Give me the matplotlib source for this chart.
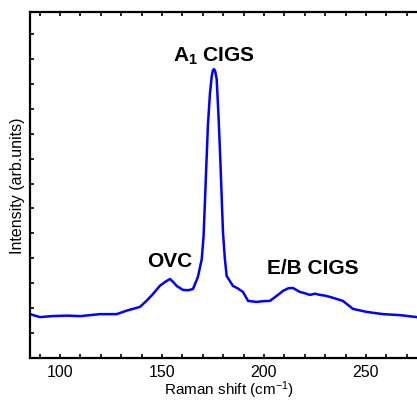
import matplotlib
matplotlib.use("Agg")
import matplotlib.pyplot as plt
from matplotlib.ticker import MultipleLocator

raman_shift = [85.3, 90.2, 96.0, 103.3, 110.0, 119.6, 127.8, 132.7, 139.2, 142.5, 145.6,
               149.0, 151.5, 153.9, 155.5, 157.2, 160.3, 163.0, 165.2, 167.6, 169.5, 170.4,
               171.1, 172.5, 173.5, 174.4, 175.0, 175.5, 176.1, 176.8, 177.6, 178.4, 179.2,
               179.9, 180.8, 181.7, 184.8, 187.0, 189.7, 192.2, 196.4, 199.5, 202.9, 206.2,
               209.3, 212.0, 214.2, 217.6, 220.0, 222.5, 225.0, 227.5, 230.0, 232.4, 238.7,
               243.6, 250.3, 258.3, 266.7, 274.9, 280.0]
intensity = [1.76, 1.64, 1.68, 1.70, 1.68, 1.76, 1.76, 1.90, 2.05, 2.30, 2.57,
             2.90, 3.05, 3.17, 3.05, 2.89, 2.73, 2.72, 2.77, 3.25, 3.97, 4.9,
             6.38, 9.31, 10.6, 11.31, 11.55, 11.59, 11.50, 11.19, 9.9, 8.38, 6.6,
             5.05, 4.0, 3.29, 2.89, 2.80, 2.65, 2.29, 2.25, 2.28, 2.29, 2.49,
             2.69, 2.80, 2.81, 2.65, 2.60, 2.53, 2.58, 2.53, 2.50, 2.45, 2.29,
             1.97, 1.85, 1.76, 1.72, 1.64, 1.62]

x_ticks = [100, 150, 200, 250]
peak_labels = ["OVC", "A$_\\mathbf{1}$ CIGS", "E/B CIGS"]
peak_label_pos = [(153.9, 3.69), (175.5, 11.91), (224.0, 3.41)]

plt.rcParams['font.family'] = ['Liberation Sans', 'DejaVu Sans']
plt.rcParams['mathtext.fontset'] = 'custom'
plt.rcParams['mathtext.rm'] = 'Liberation Sans'
plt.rcParams['mathtext.bf'] = 'Liberation Sans:bold'
plt.rcParams['mathtext.it'] = 'Liberation Sans:italic'

fig = plt.figure(figsize=(4.17, 4.02), dpi=100)
ax = fig.add_axes([30 / 417, 43 / 402, (280 - 85.3) * 2.04 / 417, 346.5 / 402])

ax.plot(raman_shift, intensity, color='#0000ff', lw=1.8)
ax.set_xlim(85.3, 280)
ax.set_ylim(0, 13.9)

ax.set_xticks(x_ticks)
ax.xaxis.set_minor_locator(MultipleLocator(10))
ax.tick_params(axis='x', which='both', direction='in', top=True, length=3, width=1.2,
               labelsize=11.5, pad=4)
ax.set_yticks(range(1, 14))
ax.set_yticklabels([])
ax.tick_params(axis='y', which='both', direction='in', length=3, width=1.2, left=True, right=False)

for s in ax.spines.values():
    s.set_linewidth(1.6)

ax.set_xlabel("Raman shift (cm$^{-1}$)", fontsize=11, labelpad=0)
ax.set_ylabel("Intensity (arb.units)", fontsize=11.5, labelpad=0)

for lab, (xx, yy) in zip(peak_labels, peak_label_pos):
    ax.text(xx, yy, lab, ha='center', va='baseline', fontsize=15, fontweight='bold')

fig.savefig("out.png", dpi=100)
